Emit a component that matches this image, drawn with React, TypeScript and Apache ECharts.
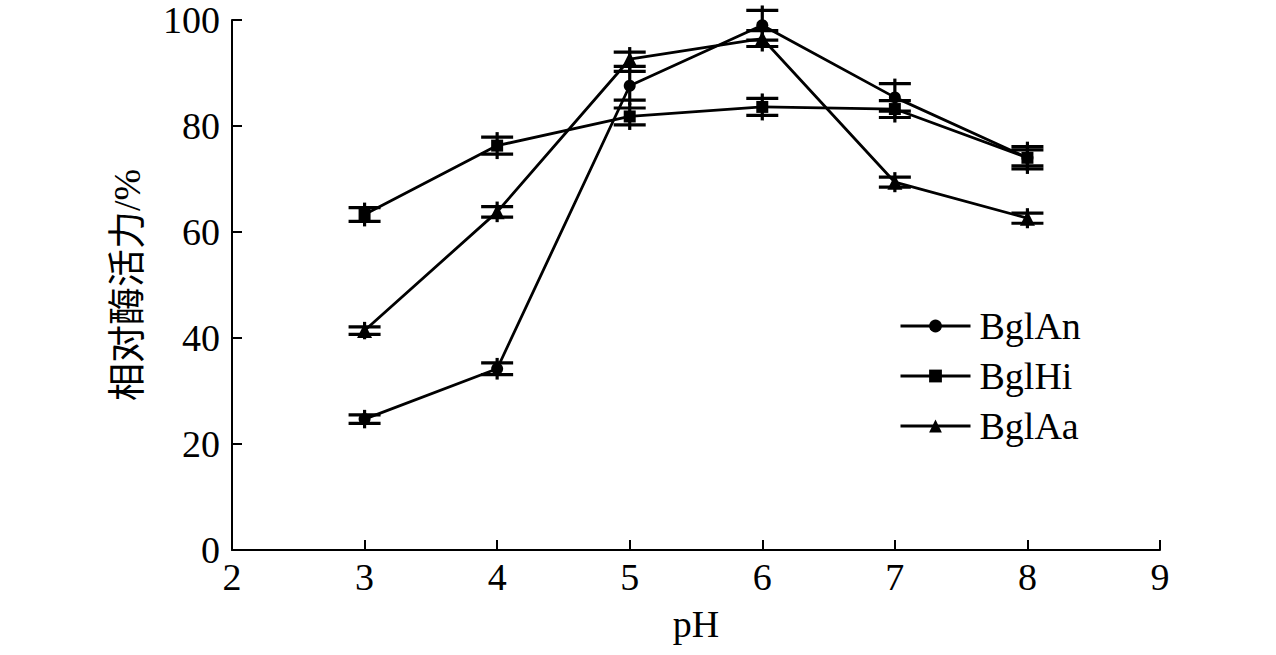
import React, { useEffect, useRef } from "react";
import * as echarts from "echarts";

const pH = [3, 4, 5, 6, 7, 8];
const bglAn = [24.7, 34.2, 87.6, 99.0, 85.4, 74.0];
const bglAnErr = [0.8, 1.1, 2.7, 2.8, 2.6, 2.1];
const bglHi = [63.3, 76.3, 81.8, 83.6, 83.2, 74.0];
const bglHiErr = [1.3, 1.6, 1.6, 1.6, 1.6, 1.5];
const bglAa = [41.4, 63.8, 92.6, 96.5, 69.4, 62.6];
const bglAaErr = [0.7, 1.0, 1.35, 1.5, 0.95, 0.95];
const seriesNames = ["BglAn", "BglHi", "BglAa"];

const FONT = "'Liberation Serif', 'Times New Roman', 'Noto Sans CJK SC', serif";

export default function App() {
  const ref = useRef<HTMLDivElement>(null);
  useEffect(() => {
    document.body.style.margin = "0";
    const chart = echarts.init(ref.current!, null, { renderer: "svg" });
    const pts = (v: number[]) => pH.map((x, i) => [x, v[i]]);
    const errs = (v: number[], e: number[]) => pH.map((x, i) => [x, v[i] - e[i], v[i] + e[i]]);
    const errSeries = (name: string, v: number[], e: number[]) => ({
      type: "custom",
      name: name + "-err",
      data: errs(v, e),
      z: 3,
      renderItem: (params: any, api: any) => {
        const x = api.value(0);
        const top = api.coord([x, api.value(2)]);
        const bot = api.coord([x, api.value(1)]);
        const hw = 16;
        const st = { stroke: "#000", lineWidth: 3.2 };
        return {
          type: "group",
          children: [
            { type: "line", shape: { x1: top[0], y1: top[1] - 5, x2: bot[0], y2: bot[1] + 5 }, style: st },
            { type: "line", shape: { x1: top[0] - hw, y1: top[1], x2: top[0] + hw, y2: top[1] }, style: st },
            { type: "line", shape: { x1: bot[0] - hw, y1: bot[1], x2: bot[0] + hw, y2: bot[1] }, style: st },
          ],
        };
      },
    });
    const lineSeries = (name: string, v: number[], symbol: string, size: number) => ({
      type: "line",
      name,
      data: pts(v),
      symbol,
      symbolSize: size,
      showAllSymbol: true,
      z: 4,
      lineStyle: { color: "#000", width: 2.8 },
      itemStyle: { color: "#000" },
    });
    chart.setOption({
      animation: false,
      backgroundColor: "#fff",
      grid: { left: 232, right: 116, top: 20, bottom: 105 },
      legend: {
        orient: "vertical",
        left: 894,
        top: 302,
        itemWidth: 70,
        itemHeight: 16,
        itemGap: 12,
        data: seriesNames,
        lineStyle: { width: 3 },
        textStyle: { fontFamily: FONT, fontSize: 38, color: "#000", padding: [0, 0, 0, 4] },
      },
      xAxis: {
        type: "value",
        min: 2,
        max: 9,
        interval: 1,
        name: "pH",
        nameLocation: "middle",
        nameGap: 55,
        nameTextStyle: { fontFamily: FONT, fontSize: 38, color: "#000" },
        axisLine: { lineStyle: { color: "#000", width: 2 } },
        axisTick: { inside: true, length: 10, lineStyle: { color: "#000", width: 2 } },
        axisLabel: { fontFamily: FONT, fontSize: 38, color: "#000", margin: 8 },
        splitLine: { show: false },
      },
      yAxis: {
        type: "value",
        min: 0,
        max: 100,
        interval: 20,
        name: "相对酶活力/%",
        nameLocation: "middle",
        nameGap: 86,
        nameTextStyle: { fontFamily: FONT, fontSize: 38, color: "#000" },
        axisLine: { show: true, lineStyle: { color: "#000", width: 2 } },
        axisTick: { show: true, inside: true, length: 10, lineStyle: { color: "#000", width: 2 } },
        axisLabel: { fontFamily: FONT, fontSize: 38, color: "#000", margin: 12 },
        splitLine: { show: false },
      },
      series: [
        errSeries("BglAn", bglAn, bglAnErr),
        errSeries("BglHi", bglHi, bglHiErr),
        errSeries("BglAa", bglAa, bglAaErr),
        lineSeries("BglAn", bglAn, "circle", 12),
        lineSeries("BglHi", bglHi, "rect", 12),
        lineSeries("BglAa", bglAa, "triangle", 15),
      ],
    });
    return () => chart.dispose();
  }, []);
  return <div ref={ref} style={{ position: "absolute", left: 0, top: 0, width: 1276, height: 655 }} />;
}
